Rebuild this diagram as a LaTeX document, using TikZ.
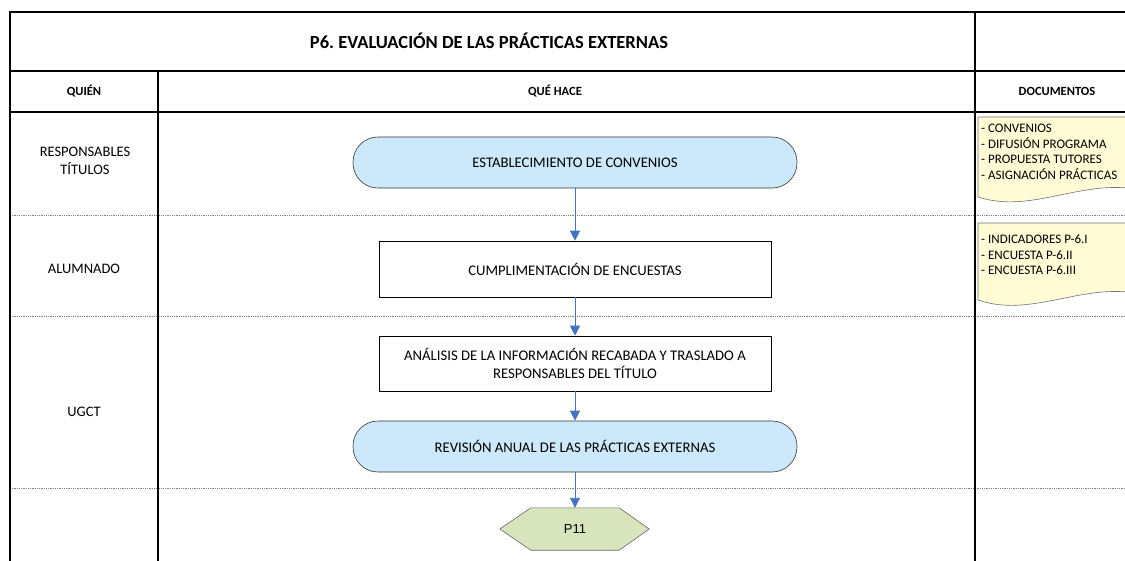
\documentclass[tikz,border=0pt]{standalone}
\usepackage{fontspec}
\setmainfont{Carlito}
\newfontfamily\arialfont{Liberation Sans}
\usetikzlibrary{arrows.meta,positioning,backgrounds}
\definecolor{flowblue}{HTML}{4472C4}
\definecolor{termfill}{HTML}{CCE9FB}
\definecolor{docfill}{HTML}{FFFBD5}
\definecolor{hexfill}{HTML}{D8E4BC}
\frenchspacing

\begin{document}
\begin{tikzpicture}[
    x = 1pt, y = -1pt,
    every node/.style = {font=\fontsize{14.7}{16}\selectfont, inner sep=0pt},
    frame/.style      = {draw, line width=2.2pt},
    lane/.style       = {draw=gray, densely dotted, line width=0.8pt},
    head/.style       = {font=\fontsize{12.5}{14}\selectfont\bfseries},
    lanename/.style   = {align=center, font=\fontsize{14.5}{18}\selectfont},
    terminal/.style   = {draw=black!80, fill=termfill, line width=0.6pt, rounded corners=25pt,
                         minimum width=444pt, minimum height=51pt},
    process/.style    = {draw, fill=white, line width=0.6pt, minimum width=392pt,
                         minimum height=56pt, align=center},
    flow/.style       = {draw=flowblue, line width=0.9pt, -{Triangle[length=10pt,width=10pt]}},
    doctext/.style    = {font=\fontsize{13}{15.5}\selectfont, align=left, anchor=north west},
    docshape/.style   = {draw=black!55, fill=docfill, line width=0.6pt},
    hexshape/.style   = {draw=black!60, fill=hexfill, line width=0.6pt}
  ]
\useasboundingbox (0,0) rectangle (1125,560);

\foreach \y in {215,316,488}
  \draw[lane] (10,\y) -- (1130,\y);

\draw[frame] (1130,12) -- (10,12) -- (10,562);
\draw[frame] (10,71) -- (1130,71);
\draw[frame] (10,112) -- (1130,112);
\draw[frame] (158,71) -- (158,562);
\draw[frame] (975,12) -- (975,562);

\node[font=\fontsize{18.5}{20}\selectfont\bfseries] (title) at (489,41) {P6. EVALUACIÓN DE LAS PRÁCTICAS EXTERNAS};
\node[head] (quien)   at (84,91)   {QUIÉN};
\node[head] (quehace) at (555,91)  {QUÉ HACE};
\node[head] (docum)   at (1057,91) {DOCUMENTOS};

\node[lanename] (resp) at (85,161) {RESPONSABLES\\TÍTULOS};
\node[lanename] (alum) at (84,269) {ALUMNADO};
\node[lanename] (ugct) at (84,412) {UGCT};

\node[terminal] (conv) at (575,162.5) {ESTABLECIMIENTO DE CONVENIOS};
\node[process] (encu) at (575,269) {CUMPLIMENTACIÓN DE ENCUESTAS};
\node[process, minimum height=55pt, font=\fontsize{14.7}{17.5}\selectfont] (anal) at (575,363.5)
  {ANÁLISIS DE LA INFORMACIÓN RECABADA Y TRASLADO A\\RESPONSABLES DEL TÍTULO};
\node[terminal] (revi) at (575,446.5) {REVISIÓN ANUAL DE LAS PRÁCTICAS EXTERNAS};
\node[font=\arialfont\fontsize{13}{14}\selectfont, minimum width=88pt, minimum height=42pt] (p11) at (575,529) {P11};
\begin{scope}[on background layer]
  \draw[hexshape] (p11.north west) -- (p11.north east) -- ([xshift=30pt]p11.east)
    -- (p11.south east) -- (p11.south west) -- ([xshift=-31pt]p11.west) -- cycle;
\end{scope}

\draw[flow] (conv) -- (encu);
\draw[flow] (encu) -- (anal);
\draw[flow] (anal) -- (revi);
\draw[flow] (revi) -- (p11);

\draw[docshape] (978,117) -- (1135,117) -- (1135,189)
  .. controls (1080,180) and (1030,214) .. (978,197) -- cycle;
\node[doctext] (docs1) at (981,124)
  {- CONVENIOS\\- DIFUSIÓN PROGRAMA\\- PROPUESTA TUTORES\\- ASIGNACIÓN PRÁCTICAS};
\draw[docshape] (978,223) -- (1135,223) -- (1135,293)
  .. controls (1080,284) and (1030,318) .. (978,300) -- cycle;
\node[doctext] (docs2) at (981,235)
  {- INDICADORES P-6.I\\- ENCUESTA P-6.II\\- ENCUESTA P-6.III};
\end{tikzpicture}
\end{document}
